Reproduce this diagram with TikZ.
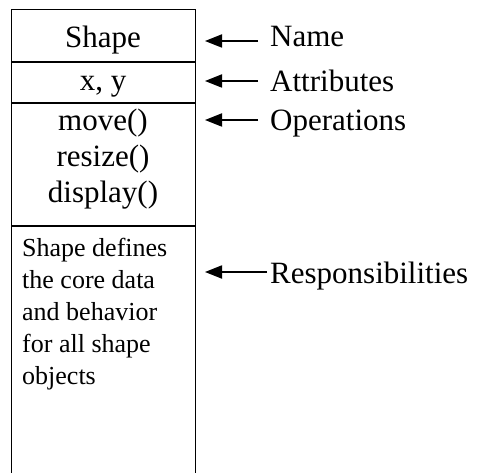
\documentclass[tikz,border=0pt]{standalone}
\usepackage{fontspec}
\setmainfont{Liberation Serif}
\usetikzlibrary{arrows.meta}
\begin{document}
\begin{tikzpicture}[x=1pt,y=-1pt,
  boxline/.style={line width=1pt},
  divline/.style={line width=1.6pt},
  big/.style={font=\fontsize{31}{31}\selectfont, inner sep=0pt},
  small/.style={font=\fontsize{26}{26}\selectfont, inner sep=0pt, anchor=base west},
  lbl/.style={big, anchor=base west},
  ctr/.style={big, anchor=base},
  arr/.style={line width=1.8pt, -{Triangle[length=17pt,width=13pt]}}]
\useasboundingbox (0,0) rectangle (479,473);
% class box
\draw[boxline] (11,473) -- (11,10) -- (195,10) -- (195,473);
\draw[divline] (11,62) -- (195,62);
\draw[divline] (11,103) -- (195,103);
\draw[divline] (11,226) -- (195,226);
% compartments text
\node[ctr] (tname) at (103,48) {Shape};
\node[ctr] (tattr) at (103,91) {x, y};
\node[ctr] (top1) at (103,131) {move()};
\node[ctr] (top2) at (103,167) {resize()};
\node[ctr] (top3) at (103,203) {display()};
\node[small] (r1) at (22,256.5) {Shape defines};
\node[small] (r2) at (22,288.5) {the core data};
\node[small] (r3) at (22,320.5) {and behavior};
\node[small] (r4) at (22,352.5) {for all shape};
\node[small] (r5) at (22,384.5) {objects};
% labels
\node[lbl] (lname) at (270,47) {Name};
\node[lbl] (lattr) at (270,91.5) {Attributes};
\node[lbl] (lops) at (270,131) {Operations};
\node[lbl] (lresp) at (270,283) {Responsibilities};
% arrow end points
\coordinate (an1) at (258,41);   \coordinate (an2) at (205,41);
\coordinate (aa1) at (258,81);   \coordinate (aa2) at (205,81);
\coordinate (ao1) at (258,120);  \coordinate (ao2) at (205,120);
\coordinate (ar1) at (267,272);  \coordinate (ar2) at (205,272);
\draw[arr] (an1) -- (an2);
\draw[arr] (aa1) -- (aa2);
\draw[arr] (ao1) -- (ao2);
\draw[arr] (ar1) -- (ar2);
\end{tikzpicture}
\end{document}
